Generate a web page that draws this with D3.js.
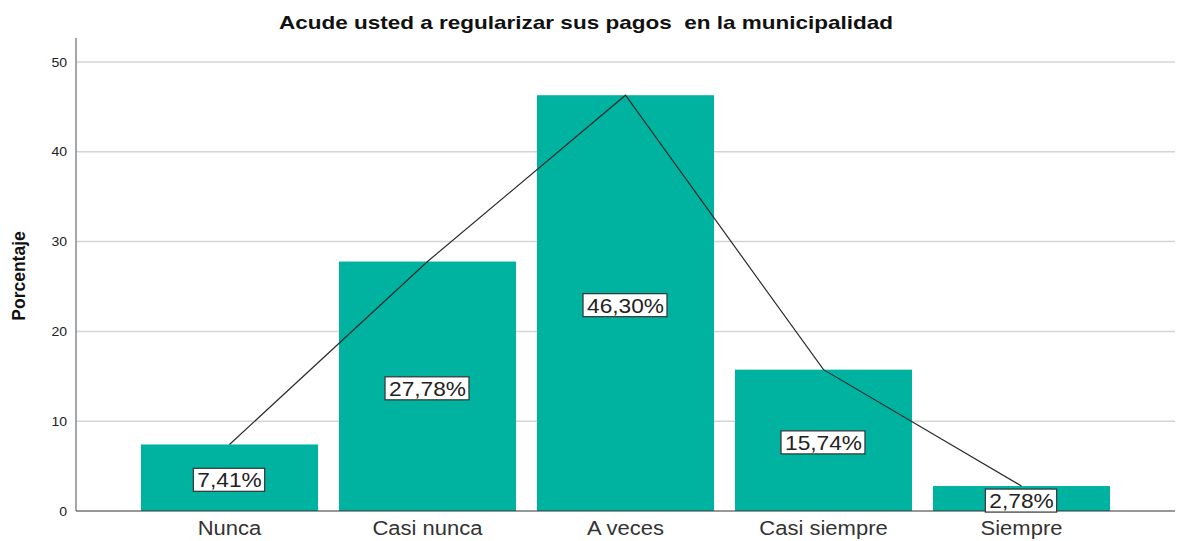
<!DOCTYPE html>
<html>
<head>
<meta charset="utf-8">
<script src="https://cdn.jsdelivr.net/npm/d3@7"></script>
<style>
  body { margin: 0; background: #fff; }
  text { font-family: "Liberation Sans", Arial, sans-serif; }
</style>
</head>
<body>
<div id="chart"></div>
<script>
var categories = ['Nunca', 'Casi nunca', 'A veces', 'Casi siempre', 'Siempre'];
var percents = [7.41, 27.78, 46.30, 15.74, 2.78];
var yTicks = [0, 10, 20, 30, 40, 50];

var width = 1178,
	height = 541;

var plotLeft = 76,
	plotRight = 1175,
	plotTop = 38,
	plotBottom = 511;

// the picture is a bit wider than tall, so text gets stretched sideways
function stretch(sel, factor) {
	sel.each(function() {
		var len = this.getComputedTextLength();
		d3.select(this)
			.attr('textLength', len * factor)
			.attr('lengthAdjust', 'spacingAndGlyphs');
	});
}

var xScale = d3.scaleBand()
	.domain(categories)
	.range([130.5, 1120.5])
	.paddingInner(0.106)
	.paddingOuter(0.053);

var yScale = d3.scaleLinear()
	.domain([0, 50])
	.range([plotBottom, 62]);

var svg = d3.select('#chart').append('svg')
	.attr('width', width)
	.attr('height', height);

// title
var title = svg.append('text')
	.attr('x', 586)
	.attr('y', 29)
	.attr('text-anchor', 'middle')
	.style('font-size', '19px')
	.style('font-weight', 'bold')
	.style('white-space', 'pre')
	.attr('fill', '#111')
	.text('Acude usted a regularizar sus pagos  en la municipalidad');
title.attr('textLength', 614).attr('lengthAdjust', 'spacingAndGlyphs');

// gridlines
svg.append('g').selectAll('line').data(yTicks.filter(function(d) { return d > 0; }))
	.enter().append('line')
		.attr('x1', plotLeft)
		.attr('x2', plotRight)
		.attr('y1', function(d) { return yScale(d); })
		.attr('y2', function(d) { return yScale(d); })
		.attr('stroke', '#d4d4d4')
		.attr('stroke-width', 1.5);

// y axis
var yAxis = d3.axisLeft(yScale)
	.tickValues(yTicks)
	.tickSize(0)
	.tickPadding(9);

var gy = svg.append('g')
	.attr('transform', 'translate(' + plotLeft + ',0)')
	.call(yAxis);
gy.select('.domain').remove();
gy.selectAll('text')
	.style('font-family', '"Liberation Sans", Arial, sans-serif')
	.style('font-size', '13px')
	.attr('fill', '#222')
	.call(stretch, 1.08);

svg.append('line')
	.attr('x1', plotLeft).attr('x2', plotLeft)
	.attr('y1', plotTop).attr('y2', plotBottom)
	.attr('stroke', '#888')
	.attr('stroke-width', 1.5);

// y axis title
svg.append('text')
	.attr('transform', 'translate(25,276) rotate(-90)')
	.attr('text-anchor', 'middle')
	.style('font-size', '17.5px')
	.style('font-weight', 'bold')
	.attr('fill', '#111')
	.text('Porcentaje');

// bars
svg.append('g').selectAll('rect').data(percents)
	.enter().append('rect')
		.attr('x', function(d, i) { return xScale(categories[i]); })
		.attr('y', function(d) { return yScale(d); })
		.attr('width', xScale.bandwidth())
		.attr('height', function(d) { return plotBottom - yScale(d); })
		.attr('fill', '#00b2a0');

// baseline
svg.append('line')
	.attr('x1', plotLeft).attr('x2', plotRight)
	.attr('y1', plotBottom).attr('y2', plotBottom)
	.attr('stroke', '#333')
	.attr('stroke-width', 1.2);

// x axis labels
var xAxis = d3.axisBottom(xScale).tickSize(0).tickPadding(10);
var gx = svg.append('g')
	.attr('transform', 'translate(0,' + plotBottom + ')')
	.call(xAxis);
gx.select('.domain').remove();
gx.selectAll('text')
	.style('font-family', '"Liberation Sans", Arial, sans-serif')
	.style('font-size', '20px')
	.attr('fill', '#333')
	.call(stretch, 1.1);

// polygon line through bar tops
var line = d3.line()
	.x(function(d, i) { return xScale(categories[i]) + xScale.bandwidth() / 2; })
	.y(function(d) { return yScale(d); });

svg.append('path')
	.datum(percents)
	.attr('d', line)
	.attr('fill', 'none')
	.attr('stroke', '#2a2a2a')
	.attr('stroke-width', 1.2);

// value labels
var labels = svg.append('g').selectAll('g').data(percents)
	.enter().append('g')
		.attr('transform', function(d, i) {
			var cx = xScale(categories[i]) + xScale.bandwidth() / 2;
			var cy = (yScale(d) + plotBottom) / 2;
			if (cy > plotBottom - 12) cy = plotBottom - 9;
			return 'translate(' + cx + ',' + (cy + 2) + ')';
		});

labels.append('text')
	.attr('text-anchor', 'middle')
	.attr('dy', '0.36em')
	.style('font-size', '21px')
	.attr('fill', '#222')
	.text(function(d) { return d.toFixed(2).replace('.', ',') + '%'; })
	.call(stretch, 1.08);

labels.each(function() {
	var g = d3.select(this);
	var bb = g.select('text').node().getBBox();
	g.insert('rect', 'text')
		.attr('x', bb.x - 4)
		.attr('y', bb.y)
		.attr('width', bb.width + 7)
		.attr('height', bb.height)
		.attr('fill', '#fff')
		.attr('stroke', '#333')
		.attr('stroke-width', 1.2);
});
</script>
</body>
</html>
